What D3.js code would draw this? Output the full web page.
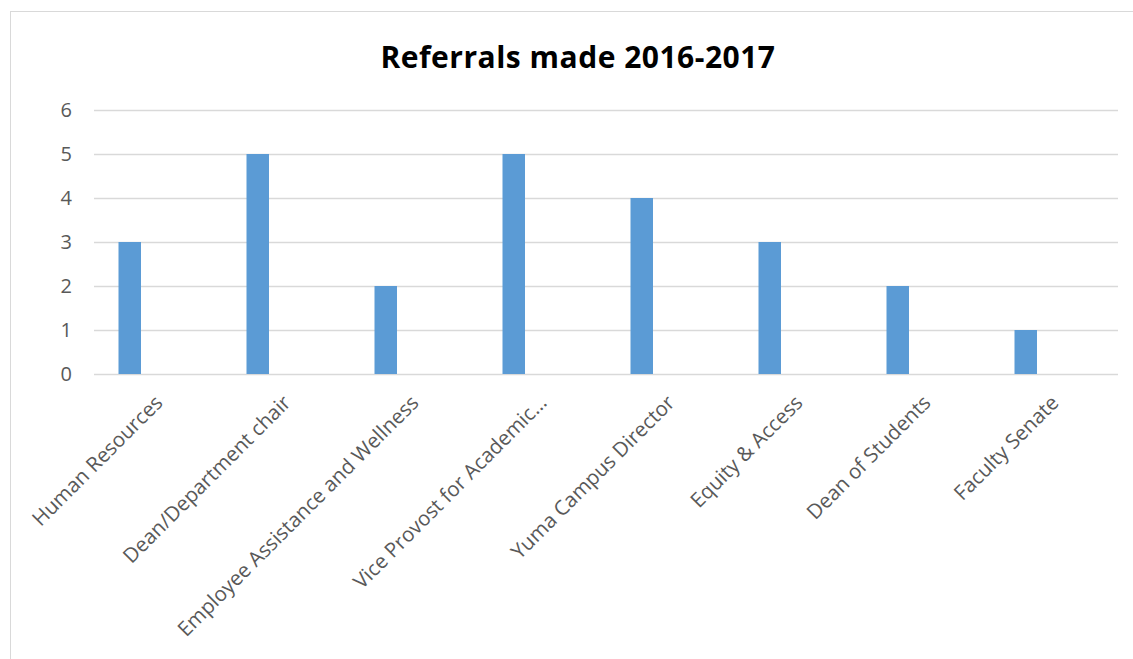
<!DOCTYPE html>
<html>
<head>
<meta charset="utf-8">
<script src="https://cdn.jsdelivr.net/npm/d3@7"></script>
<style>
  html, body { margin: 0; padding: 0; background: #fff; }
  svg { display: block; }
</style>
</head>
<body>
<script>
// Referral counts by office, 2016-2017
const categories = [
  "Human Resources",
  "Dean/Department chair",
  "Employee Assistance and Wellness",
  "Vice Provost for Academic…",
  "Yuma Campus Director",
  "Equity & Access",
  "Dean of Students",
  "Faculty Senate"
];
const referrals = [3, 5, 2, 5, 4, 3, 2, 1];
const yTicks = [0, 1, 2, 3, 4, 5, 6];
const chartTitle = "Referrals made 2016-2017";

const W = 1133, H = 659;
const plot = { left: 94, right: 1118, top: 110, bottom: 374 };

const svg = d3.select("body").append("svg")
  .attr("width", W).attr("height", H);

// chart frame
svg.append("rect")
  .attr("x", 10.5).attr("y", 11.5)
  .attr("width", 1140).attr("height", 700)
  .attr("fill", "#fff")
  .attr("stroke", "#d9d9d9").attr("stroke-width", 1);

const x = d3.scaleBand().domain(categories).range([plot.left, plot.right]).padding(0);
const y = d3.scaleLinear().domain([0, 6]).range([plot.bottom, plot.top]);

// gridlines
svg.append("g").selectAll("line").data(yTicks).join("line")
  .attr("x1", plot.left).attr("x2", plot.right)
  .attr("y1", d => Math.round(y(d)) + 0.5).attr("y2", d => Math.round(y(d)) + 0.5)
  .attr("stroke", "#d9d9d9").attr("stroke-width", 1.5);

// y axis labels
const yAxis = d3.axisLeft(y).tickValues(yTicks).tickFormat(d3.format("d")).tickSize(0).tickPadding(0);
const gy = svg.append("g").attr("transform", `translate(${plot.left - 22},0)`).call(yAxis);
gy.select(".domain").remove();
gy.selectAll("text")
  .attr("font-family", "'Open Sans', sans-serif")
  .attr("font-size", 20)
  .attr("fill", "#595959");

// bars sit left of band centre (single series in a clustered layout)
const barW = 22.5;
const barOffset = 24.5;
svg.append("g").selectAll("rect").data(categories).join("rect")
  .attr("x", (d) => x(d) + barOffset)
  .attr("y", (d, i) => y(referrals[i]))
  .attr("width", barW)
  .attr("height", (d, i) => y(0) - y(referrals[i]))
  .attr("fill", "#5b9bd5");

// category labels, rotated
const xAxis = d3.axisBottom(x).tickSize(0).tickPadding(0);
const gx = svg.append("g").attr("transform", `translate(0,${plot.bottom})`).call(xAxis);
gx.select(".domain").remove();
gx.selectAll("text")
  .attr("font-family", "'Open Sans', sans-serif")
  .attr("font-size", 20.5)
  .attr("fill", "#595959")
  .attr("text-anchor", "end")
  .attr("dy", null)
  .attr("y", 0)
  .attr("transform", "translate(6,30) rotate(-45)");

// title
svg.append("text")
  .attr("x", 578).attr("y", 68)
  .attr("text-anchor", "middle")
  .attr("font-family", "'Open Sans', sans-serif")
  .attr("font-weight", "bold")
  .attr("font-size", 30)
  .attr("letter-spacing", 0.5)
  .attr("fill", "#000")
  .text(chartTitle);
</script>
</body>
</html>
